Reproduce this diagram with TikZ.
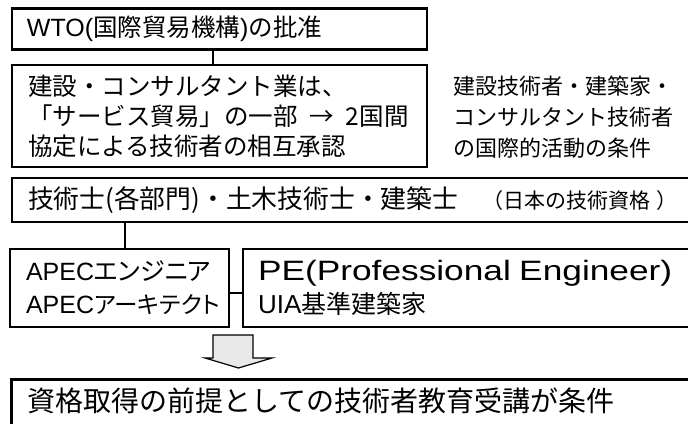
\documentclass[tikz,border=0pt]{standalone}
\usepackage{fontspec}
\setmainfont{Noto Sans CJK JP}
\newfontfamily\latn{Liberation Sans}
\newfontfamily\latnwide{Liberation Sans}[FakeStretch=1.26]
\definecolor{arrowgray}{RGB}{232,232,232}
\tikzset{
  thickbox/.style={draw=black, line width=2.6pt, align=left, inner ysep=0pt},
  thinbox/.style={draw=black, line width=1.2pt, align=left, inner ysep=0pt},
  thickline/.style={draw=black, line width=2.4pt},
  thinline/.style={draw=black, line width=1.2pt},
}
\begin{document}
\begin{tikzpicture}[x=1pt, y=-1pt]
\useasboundingbox (0,0) rectangle (688,423);
\clip (0,0) rectangle (688,423);
% boxes
\node[thickbox, minimum width=415, minimum height=41, inner xsep=15pt, text width=385,
      font=\fontsize{24.5}{28}\selectfont] (wto) at (219.5,29)
  {\mbox{{\latn\fontsize{25}{28}\selectfont WTO(}国際貿易機構{\latn\fontsize{25}{28}\selectfont )}の批准}};
\node[thickbox, minimum width=415, minimum height=102, inner xsep=16pt, text width=383,
      font=\fontsize{24.5}{30}\selectfont] (cons) at (219.5,116)
  {\mbox{建設・コンサルタント業は、}\\\mbox{「サービス貿易」の一部\hspace{12pt}→\hspace{12pt}2国間}\\\mbox{協定による技術者の相互承認}};
\node[align=left, inner sep=0pt, anchor=west, font=\fontsize{22}{31}\selectfont] (cond) at (453,117)
  {建設技術者・建築家・\\コンサルタント技術者\\の国際的活動の条件};
\node[thickbox, minimum width=693, minimum height=44, inner xsep=16pt, text width=661,
      font=\fontsize{25.8}{28}\selectfont] (qual) at (358.5,200)
  {\mbox{技術士(各部門)・土木技術士・建築士\hspace{24pt}{\fontsize{21}{22}\selectfont （日本の技術資格\hspace{6pt}）}}};
\node[thinbox, minimum width=219, minimum height=78, inner xsep=16pt, text width=187,
      font=\fontsize{25}{33}\selectfont\addfontfeatures{RawFeature=+palt}] (apec) at (119.5,288)
  {\mbox{{\latn APEC}エンジニア}\\\mbox{{\latn APEC}{\fontsize{23.5}{33}\selectfont アーキテクト}}};
\node[thinbox, minimum width=462, minimum height=78, inner xsep=15pt, text width=432,
      font=\fontsize{25}{33}\selectfont] (pe) at (474,288)
  {\mbox{\latnwide\fontsize{28}{33}\selectfont PE(Professional Engineer)}\\\mbox{{\latn\fontsize{26}{33}\selectfont UIA}基準建築家}};
\node[thickbox, anchor=north west, minimum width=695, inner xsep=16pt, text width=663,
      inner ysep=7pt, text height=25pt, text depth=30pt,
      font=\fontsize{28}{32}\selectfont] (edu) at (10,378)
  {資格取得の前提としての技術者教育受講が条件};
% connectors
\coordinate (c1) at (213,0);
\coordinate (c2) at (125,0);
\coordinate (c3) at (0,293);
\draw[thickline] (c1 |- wto.south) -- (c1 |- cons.north);
\draw[thinline] (c2 |- qual.south) -- (c2 |- apec.north);
\draw[thinline] (c3 -| apec.east) -- (c3 -| pe.west);
% block arrow
\filldraw[fill=arrowgray, draw=black, line width=1.2pt, line join=miter]
  (213,335) -- (253,335) -- (253,358) -- (272,358) -- (238.5,368) -- (205,358) -- (213,358) -- cycle;
\end{tikzpicture}
\end{document}
